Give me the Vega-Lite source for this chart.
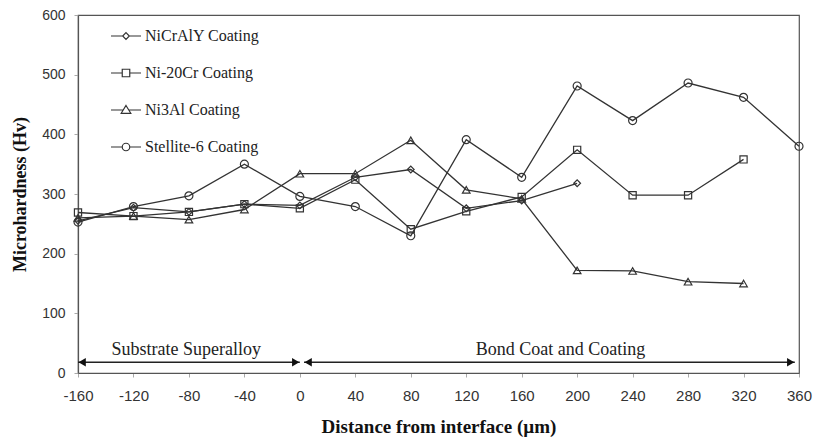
{
  "$schema": "https://vega.github.io/schema/vega-lite/v6.json",
  "width": 721,
  "height": 358,
  "autosize": {"type": "none"},
  "padding": {"left": 78, "top": 15, "right": 16, "bottom": 67},
  "background": "white",
  "config": {
    "view": {"stroke": "#555", "strokeWidth": 1.2},
    "font": "Liberation Sans"
  },
  "datasets": {
    "hardness": [
      {"series": "NiCrAlY Coating", "x": -160, "y": 255},
      {"series": "NiCrAlY Coating", "x": -120, "y": 277},
      {"series": "NiCrAlY Coating", "x": -80, "y": 270},
      {"series": "NiCrAlY Coating", "x": -40, "y": 283},
      {"series": "NiCrAlY Coating", "x": 0, "y": 281},
      {"series": "NiCrAlY Coating", "x": 40, "y": 328},
      {"series": "NiCrAlY Coating", "x": 80, "y": 341},
      {"series": "NiCrAlY Coating", "x": 120, "y": 276},
      {"series": "NiCrAlY Coating", "x": 160, "y": 289},
      {"series": "NiCrAlY Coating", "x": 200, "y": 318},
      {"series": "Ni-20Cr Coating", "x": -160, "y": 269},
      {"series": "Ni-20Cr Coating", "x": -120, "y": 263},
      {"series": "Ni-20Cr Coating", "x": -80, "y": 270},
      {"series": "Ni-20Cr Coating", "x": -40, "y": 283},
      {"series": "Ni-20Cr Coating", "x": 0, "y": 276},
      {"series": "Ni-20Cr Coating", "x": 40, "y": 324},
      {"series": "Ni-20Cr Coating", "x": 80, "y": 241},
      {"series": "Ni-20Cr Coating", "x": 120, "y": 271},
      {"series": "Ni-20Cr Coating", "x": 160, "y": 295},
      {"series": "Ni-20Cr Coating", "x": 200, "y": 374},
      {"series": "Ni-20Cr Coating", "x": 240, "y": 298},
      {"series": "Ni-20Cr Coating", "x": 280, "y": 298},
      {"series": "Ni-20Cr Coating", "x": 320, "y": 358},
      {"series": "Ni3Al Coating", "x": -160, "y": 260},
      {"series": "Ni3Al Coating", "x": -120, "y": 263},
      {"series": "Ni3Al Coating", "x": -80, "y": 257},
      {"series": "Ni3Al Coating", "x": -40, "y": 274},
      {"series": "Ni3Al Coating", "x": 0, "y": 334},
      {"series": "Ni3Al Coating", "x": 40, "y": 334},
      {"series": "Ni3Al Coating", "x": 80, "y": 390},
      {"series": "Ni3Al Coating", "x": 120, "y": 307},
      {"series": "Ni3Al Coating", "x": 160, "y": 292},
      {"series": "Ni3Al Coating", "x": 200, "y": 172},
      {"series": "Ni3Al Coating", "x": 240, "y": 171},
      {"series": "Ni3Al Coating", "x": 280, "y": 153},
      {"series": "Ni3Al Coating", "x": 320, "y": 150},
      {"series": "Stellite-6 Coating", "x": -160, "y": 253},
      {"series": "Stellite-6 Coating", "x": -120, "y": 279},
      {"series": "Stellite-6 Coating", "x": -80, "y": 297},
      {"series": "Stellite-6 Coating", "x": -40, "y": 350},
      {"series": "Stellite-6 Coating", "x": 0, "y": 296},
      {"series": "Stellite-6 Coating", "x": 40, "y": 279},
      {"series": "Stellite-6 Coating", "x": 80, "y": 230},
      {"series": "Stellite-6 Coating", "x": 120, "y": 391},
      {"series": "Stellite-6 Coating", "x": 160, "y": 328},
      {"series": "Stellite-6 Coating", "x": 200, "y": 481},
      {"series": "Stellite-6 Coating", "x": 240, "y": 423},
      {"series": "Stellite-6 Coating", "x": 280, "y": 486},
      {"series": "Stellite-6 Coating", "x": 320, "y": 462},
      {"series": "Stellite-6 Coating", "x": 360, "y": 380}
    ],
    "arrows": [
      {"region": "Substrate Superalloy", "x": -160, "x2": 0, "y": 18},
      {"region": "Bond Coat and Coating", "x": 3, "x2": 357, "y": 18}
    ],
    "heads": [
      {"x": -157, "y": 18, "dir": "left"},
      {"x": -3, "y": 18, "dir": "right"},
      {"x": 6, "y": 18, "dir": "left"},
      {"x": 354, "y": 18, "dir": "right"}
    ],
    "labels": [
      {"x": -82, "y": 38, "text": "Substrate Superalloy"},
      {"x": 188, "y": 38, "text": "Bond Coat and Coating"}
    ]
  },
  "encoding": {
    "x": {
      "field": "x",
      "type": "quantitative",
      "scale": {"domain": [-160, 360], "nice": false, "zero": false},
      "axis": {
        "values": [-160, -120, -80, -40, 0, 40, 80, 120, 160, 200, 240, 280, 320, 360],
        "labelExpr": "'' + datum.value",
        "title": "Distance from interface (µm)",
        "grid": false,
        "tickSize": 4,
        "tickColor": "#aaa",
        "domainColor": "#555",
        "domainWidth": 1.2,
        "labelPadding": 11,
        "labelFont": "Liberation Sans",
        "labelFontSize": 15,
        "labelColor": "#333",
        "labelFlush": false,
        "titleFont": "Liberation Serif",
        "titleFontSize": 19,
        "titleFontWeight": "bold",
        "titleColor": "#111",
        "titlePadding": 14
      }
    },
    "y": {
      "field": "y",
      "type": "quantitative",
      "scale": {"domain": [0, 600], "nice": false},
      "axis": {
        "values": [0, 100, 200, 300, 400, 500, 600],
        "labelExpr": "'' + datum.value",
        "title": "Microhardness (Hv)",
        "grid": false,
        "tickSize": 4,
        "tickColor": "#aaa",
        "domainColor": "#555",
        "domainWidth": 1.2,
        "labelPadding": 9,
        "labelFont": "Liberation Sans",
        "labelFontSize": 14,
        "labelColor": "#333",
        "labelFlush": false,
        "titleFont": "Liberation Serif",
        "titleFontSize": 18,
        "titleFontWeight": "bold",
        "titleColor": "#111",
        "titlePadding": 12
      }
    }
  },
  "layer": [
    {
      "data": {"name": "hardness"},
      "mark": {"type": "line", "color": "#333", "strokeWidth": 1.3},
      "encoding": {"detail": {"field": "series", "type": "nominal"}}
    },
    {
      "data": {"name": "hardness"},
      "mark": {"type": "point", "filled": false, "color": "#333", "strokeWidth": 1.2, "opacity": 1},
      "encoding": {
        "shape": {
          "field": "series",
          "type": "nominal",
          "scale": {
            "domain": ["NiCrAlY Coating", "Ni-20Cr Coating", "Ni3Al Coating", "Stellite-6 Coating"],
            "range": ["diamond", "square", "triangle-up", "circle"]
          },
          "legend": null
        },
        "size": {
          "field": "series",
          "type": "nominal",
          "scale": {
            "domain": ["NiCrAlY Coating", "Ni-20Cr Coating", "Ni3Al Coating", "Stellite-6 Coating"],
            "range": [45, 64, 100, 70]
          },
          "legend": null
        }
      }
    },
    {
      "data": {"name": "hardness"},
      "mark": {"type": "point", "filled": false, "color": "#333", "opacity": 0},
      "encoding": {
        "shape": {
          "field": "series",
          "type": "nominal",
          "scale": {
            "domain": ["NiCrAlY Coating", "Ni-20Cr Coating", "Ni3Al Coating", "Stellite-6 Coating"],
            "range": [
              "M-1,0L-0.22,0M0.22,0L1,0M0,-0.22L0.22,0L0,0.22L-0.22,0Z",
              "M-1,0L-0.25,0M0.25,0L1,0M-0.25,-0.25L0.25,-0.25L0.25,0.25L-0.25,0.25Z",
              "M-1,0L-0.185,0M0.185,0L1,0M0,-0.3L0.32,0.22L-0.32,0.22Z",
              "M-1,0L-0.25,0M0.25,0L1,0M0.25,0A0.25,0.25 0 1,1 -0.25,0A0.25,0.25 0 1,1 0.25,0Z"
            ]
          },
          "legend": {
            "title": null,
            "orient": "none",
            "legendX": 32,
            "legendY": 5,
            "padding": 0,
            "symbolSize": 900,
            "symbolOpacity": 1,
            "symbolStrokeColor": "#333",
            "symbolFillColor": "white",
            "symbolStrokeWidth": 1.2,
            "labelFont": "Liberation Serif",
            "labelFontSize": 16,
            "labelColor": "#222",
            "labelOffset": 3,
            "rowPadding": 13,
            "labelLimit": 300
          }
        }
      }
    },
    {
      "data": {"name": "arrows"},
      "mark": {"type": "rule", "color": "#222", "strokeWidth": 1.4},
      "encoding": {"x2": {"field": "x2"}}
    },
    {
      "data": {"name": "heads"},
      "mark": {"type": "point", "filled": true, "color": "#111", "size": 70, "opacity": 1},
      "encoding": {
        "shape": {
          "field": "dir",
          "type": "nominal",
          "scale": {"domain": ["left", "right"], "range": ["triangle-left", "triangle-right"]},
          "legend": null
        }
      }
    },
    {
      "data": {"name": "labels"},
      "mark": {"type": "text", "font": "Liberation Serif", "fontSize": 18, "color": "#222", "align": "center", "baseline": "middle"},
      "encoding": {"text": {"field": "text"}}
    }
  ],
  "resolve": {"scale": {"shape": "independent", "size": "independent"}, "legend": {"shape": "independent"}}
}
